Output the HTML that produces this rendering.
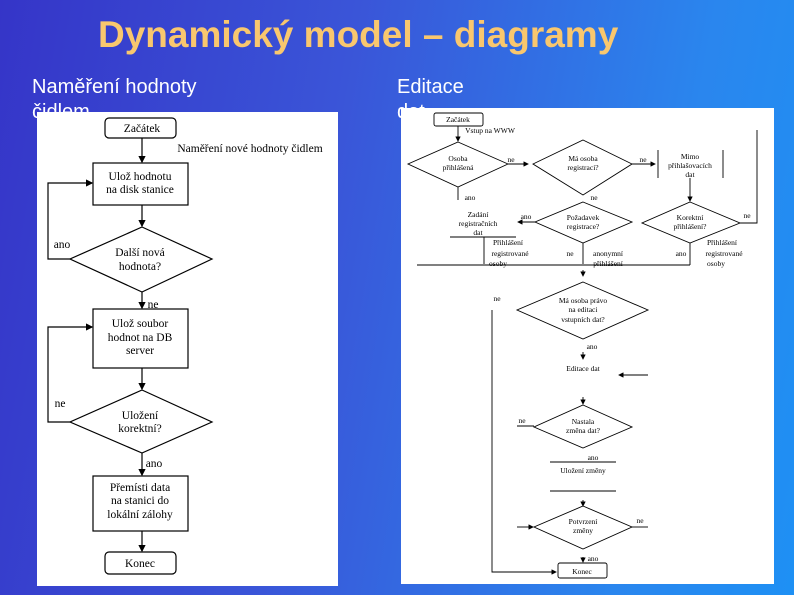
<!DOCTYPE html>
<html><head><meta charset="utf-8"><style>
html,body{margin:0;padding:0}
body{width:794px;height:595px;overflow:hidden;position:relative;background:linear-gradient(100deg,#3535c8 0%,#3a55d8 40%,#2a86ee 80%,#1e90f4 100%);font-family:"Liberation Sans",sans-serif}
.t{position:absolute;left:98px;top:14px;font-size:37px;font-weight:bold;color:#f9c76e;white-space:nowrap}
.s{position:absolute;color:#fff;font-size:20px;line-height:25px}
.p{position:absolute;background:#fff}
svg{position:absolute;left:0;top:0}
</style></head><body>
<div class="t">Dynamický model – diagramy</div>
<div class="s" style="left:32px;top:75px">Naměření hodnoty<br>čidlem</div>
<div class="s" style="left:397px;top:75px">Editace<br>dat</div>
<div class="p" style="left:37px;top:112px;width:301px;height:474px"></div>
<div class="p" style="left:401px;top:108px;width:373px;height:476px"></div>
<svg width="794" height="595" viewBox="0 0 794 595" font-family="Liberation Serif, serif">
<defs><marker id="a" markerWidth="6" markerHeight="6" refX="5" refY="3" orient="auto"><path d="M0,0L6,3L0,6z" fill="#000"/></marker></defs>
<g stroke="#000" stroke-width="1.2" fill="none">
<rect x="105" y="118" width="71" height="20" rx="4"/>
<line x1="142" y1="138" x2="142" y2="162" marker-end="url(#a)"/>
<rect x="93" y="163" width="95" height="42"/>
<line x1="142" y1="205" x2="142" y2="226" marker-end="url(#a)"/>
<polygon points="142,227 212,259 142,292 70,259"/>
<polyline points="70,259 48,259 48,183 92,183" marker-end="url(#a)"/>
<line x1="142" y1="292" x2="142" y2="308" marker-end="url(#a)"/>
<rect x="93" y="309" width="95" height="59"/>
<line x1="142" y1="368" x2="142" y2="389" marker-end="url(#a)"/>
<polygon points="142,390 212,422 142,453 70,422"/>
<polyline points="70,422 48,422 48,327 92,327" marker-end="url(#a)"/>
<line x1="142" y1="453" x2="142" y2="475" marker-end="url(#a)"/>
<rect x="93" y="476" width="95" height="55"/>
<line x1="142" y1="531" x2="142" y2="551" marker-end="url(#a)"/>
<rect x="105" y="552" width="71" height="22" rx="4"/>
</g>
<g font-size="11.5" fill="#000" text-anchor="middle">
<text x="142" y="132">Začátek</text>
<text x="250" y="152">Naměření nové hodnoty čidlem</text>
<text x="140" y="180">Ulož hodnotu</text><text x="140" y="193">na disk stanice</text>
<text x="140" y="256">Další nová</text><text x="140" y="270">hodnota?</text>
<text x="62" y="248">ano</text><text x="153" y="308">ne</text>
<text x="140" y="327">Ulož soubor</text><text x="140" y="341">hodnot na DB</text><text x="140" y="354">server</text>
<text x="60" y="407">ne</text>
<text x="140" y="419">Uložení</text><text x="140" y="432">korektní?</text>
<text x="154" y="467">ano</text>
<text x="140" y="491">Přemísti data</text><text x="140" y="504">na stanici do</text><text x="140" y="518">lokální zálohy</text>
<text x="140" y="567">Konec</text>
</g>
<g stroke="#000" stroke-width="0.9" fill="none">
<rect x="434" y="113" width="49" height="13" rx="2"/>
<line x1="458" y1="126" x2="458" y2="141" marker-end="url(#a)"/>
<polygon points="458,142 508,164 458,187 408,164"/>
<line x1="508" y1="164" x2="528" y2="164" marker-end="url(#a)"/>
<polygon points="583,140 632,164 583,195 533,164"/>
<line x1="632" y1="164" x2="655" y2="164" marker-end="url(#a)"/>
<line x1="658" y1="150" x2="658" y2="178"/><line x1="723" y1="150" x2="723" y2="178"/>
<line x1="690" y1="178" x2="690" y2="201" marker-end="url(#a)"/>
<polygon points="690,202 740,223 690,243 642,223"/>
<polyline points="740,223 757,223 757,130"/>
<line x1="458" y1="187" x2="458" y2="200"/>
<polygon points="583,202 632,222 583,243 535,222"/>
<line x1="535" y1="222" x2="518" y2="222" marker-end="url(#a)"/>
<line x1="450" y1="237" x2="516" y2="237"/>
<line x1="484" y1="237" x2="484" y2="264"/>
<line x1="417" y1="265" x2="690" y2="265"/>
<line x1="690" y1="243" x2="690" y2="265"/>
<line x1="583" y1="243" x2="583" y2="264"/>
<line x1="583" y1="270" x2="583" y2="276" marker-end="url(#a)"/>
<polygon points="583,282 648,310 583,339 517,310"/>
<polyline points="492,310 492,572 556,572" marker-end="url(#a)"/>
<line x1="583" y1="352" x2="583" y2="359" marker-end="url(#a)"/>
<line x1="648" y1="375" x2="619" y2="375" marker-end="url(#a)"/>
<line x1="583" y1="397" x2="583" y2="404" marker-end="url(#a)"/>
<polygon points="583,405 632,427 583,448 534,427"/>
<line x1="517" y1="426" x2="534" y2="426"/>
<line x1="550" y1="462" x2="616" y2="462"/>
<line x1="550" y1="491" x2="616" y2="491"/>
<line x1="583" y1="500" x2="583" y2="506" marker-end="url(#a)"/>
<polygon points="583,506 632,527 583,549 534,527"/>
<line x1="517" y1="527" x2="533" y2="527" marker-end="url(#a)"/>
<line x1="632" y1="527" x2="648" y2="527"/>
<line x1="583" y1="557" x2="583" y2="562" marker-end="url(#a)"/>
<rect x="558" y="563" width="49" height="15" rx="2"/>
</g>
<g font-size="7.5" fill="#000" text-anchor="middle">
<text x="458" y="122">Začátek</text>
<text x="490" y="133">Vstup na WWW</text>
<text x="458" y="161">Osoba</text><text x="458" y="170">přihlášená</text>
<text x="511" y="162">ne</text>
<text x="583" y="161">Má osoba</text><text x="583" y="170">registraci?</text>
<text x="643" y="162">ne</text>
<text x="690" y="159">Mimo</text><text x="690" y="168">přihlašovacích</text><text x="690" y="177">dat</text>
<text x="690" y="220">Korektní</text><text x="690" y="229">přihlášení?</text>
<text x="747" y="218">ne</text>
<text x="470" y="200">ano</text><text x="594" y="200">ne</text>
<text x="583" y="220">Požadavek</text><text x="583" y="229">registrace?</text>
<text x="526" y="219">ano</text>
<text x="478" y="217">Zadání</text><text x="478" y="226">registračních</text><text x="478" y="235">dat</text>
<text x="508" y="245">Přihlášení</text><text x="510" y="256">registrované</text><text x="498" y="266">osoby</text>
<text x="570" y="256">ne</text><text x="608" y="256">anonymní</text><text x="608" y="266">přihlášení</text>
<text x="681" y="256">ano</text>
<text x="722" y="245">Přihlášení</text><text x="724" y="256">registrované</text><text x="716" y="266">osoby</text>
<text x="497" y="301">ne</text>
<text x="583" y="303">Má osoba právo</text><text x="583" y="312">na editaci</text><text x="583" y="322">vstupních dat?</text>
<text x="592" y="349">ano</text>
<text x="583" y="371">Editace dat</text>
<text x="522" y="423">ne</text>
<text x="583" y="424">Nastala</text><text x="583" y="433">změna dat?</text>
<text x="593" y="460">ano</text>
<text x="583" y="473">Uložení změny</text>
<text x="583" y="524">Potvrzení</text><text x="583" y="533">změny</text>
<text x="640" y="523">ne</text>
<text x="593" y="561">ano</text>
<text x="582" y="574">Konec</text>
</g>
</svg>
</body></html>
